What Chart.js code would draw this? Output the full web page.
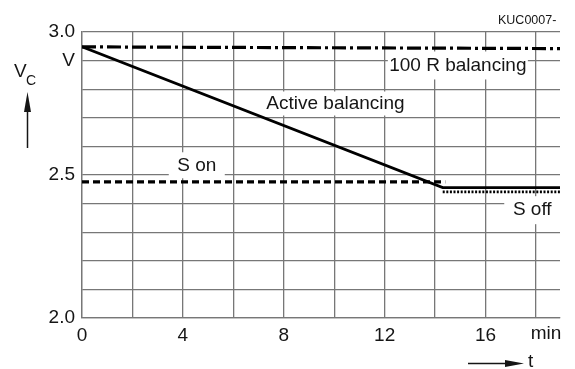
<!DOCTYPE html>
<html>
<head>
<meta charset="utf-8">
<script src="https://cdn.jsdelivr.net/npm/chart.js@4/dist/chart.umd.min.js"></script>
<style>
  html, body { margin: 0; padding: 0; background: #fff; }
  canvas { display: block; }
</style>
</head>
<body>
<canvas id="c" width="575" height="369"></canvas>
<script>
// ---- data (time in min, voltage in V) ----
const r100Time = [0, 18.95];
const r100Volt = [2.948, 2.942];
const activeTime = [0, 14.3, 18.95];
const activeVolt = [2.948, 2.456, 2.456];
const sOnTime = [0, 14.4];
const sOnVolt = [2.476, 2.476];
const sOffTime = [14.3, 18.95];
const sOffVolt = [2.441, 2.441];

const xGridValues = [0, 2, 4, 6, 8, 10, 12, 14, 16, 18];
const xTickLabels = { 0: '0', 4: '4', 8: '8', 12: '12', 16: '16' };
const yTickLabels = { 30: '3.0', 29: 'V', 25: '2.5', 20: '2.0' };

const seriesLabels = ['100 R balancing', 'Active balancing', 'S on', 'S off'];

const FONT = '"Liberation Sans", Arial, sans-serif';
const TXT = '#151515';
const GRID = '#777777';

function pts(t, v) { return t.map((x, i) => ({ x: x, y: v[i] })); }

const annotate = {
  id: 'annotate',
  beforeDatasetsDraw(chart) {
    const { ctx, scales: { x, y } } = chart;
    ctx.save();
    ctx.font = '19px ' + FONT;
    ctx.fillStyle = TXT;
    ctx.textBaseline = 'middle';
    ctx.textAlign = 'center';
    const boxes = [
      // [label, t-center, v-center, half-width(px), half-height(px)]
      [seriesLabels[0], 14.9, 2.883, 70, 14],
      [seriesLabels[1], 10.05, 2.75, 73, 12],
      [seriesLabels[2], 4.55, 2.534, 28, 13],
      [seriesLabels[3], 17.85, 2.377, 28, 14]
    ];
    boxes.forEach(([txt, tx, vy, hw, hh]) => {
      const cx = x.getPixelForValue(tx);
      const cy = y.getPixelForValue(vy);
      ctx.fillStyle = '#fff';
      const left = cx - hw;
      const right = Math.min(cx + hw, chart.chartArea.right + 1);
      ctx.fillRect(left, cy - hh, right - left, hh * 2);
      ctx.fillStyle = TXT;
      ctx.fillText(txt, cx, cy);
    });
    ctx.restore();
  },
  afterDraw(chart) {
    const { ctx, scales: { x } } = chart;
    ctx.save();
    ctx.fillStyle = TXT;
    ctx.strokeStyle = TXT;
    // corner code
    ctx.font = '12.5px ' + FONT;
    ctx.textAlign = 'left';
    ctx.textBaseline = 'middle';
    ctx.fillText('KUC0007-', 498, 21);
    // "min" unit
    ctx.font = '19px ' + FONT;
    ctx.textAlign = 'center';
    ctx.fillText('min', x.getPixelForValue(18) + 10, 334);
    // V_C label
    ctx.textAlign = 'left';
    ctx.fillText('V', 14, 72);
    ctx.font = '14px ' + FONT;
    ctx.fillText('C', 26, 81);
    // up arrow
    ctx.lineWidth = 1.5;
    ctx.beginPath();
    ctx.moveTo(27.5, 148);
    ctx.lineTo(27.5, 110);
    ctx.stroke();
    ctx.beginPath();
    ctx.moveTo(27.5, 92);
    ctx.lineTo(31, 112);
    ctx.lineTo(24, 112);
    ctx.closePath();
    ctx.fill();
    // right arrow + t
    ctx.beginPath();
    ctx.moveTo(468, 363.5);
    ctx.lineTo(510, 363.5);
    ctx.stroke();
    ctx.beginPath();
    ctx.moveTo(524, 363.5);
    ctx.lineTo(505, 360);
    ctx.lineTo(505, 367);
    ctx.closePath();
    ctx.fill();
    ctx.font = '19px ' + FONT;
    ctx.textAlign = 'left';
    ctx.fillText('t', 528, 362);
    ctx.restore();
  }
};

new Chart(document.getElementById('c'), {
  type: 'line',
  data: {
    datasets: [
      { label: seriesLabels[0], data: pts(r100Time, r100Volt), borderColor: '#000', borderWidth: 3.2,
        borderDash: [14, 4, 3, 4] },
      { label: seriesLabels[1], data: pts(activeTime, activeVolt), borderColor: '#000', borderWidth: 2.8 },
      { label: seriesLabels[2], data: pts(sOnTime, sOnVolt), borderColor: '#000', borderWidth: 3.2,
        borderDash: [7, 4] },
      { label: seriesLabels[3], data: pts(sOffTime, sOffVolt), borderColor: '#000', borderWidth: 2.6,
        borderDash: [2, 1.6] }
    ]
  },
  options: {
    responsive: false,
    animation: false,
    events: [],
    elements: { point: { radius: 0 }, line: { tension: 0, borderCapStyle: 'butt' } },
    layout: { padding: { top: 32, right: 15, left: 0, bottom: 0 } },
    plugins: { legend: { display: false }, tooltip: { enabled: false } },
    scales: {
      x: {
        type: 'linear', min: 0, max: 18.95,
        afterBuildTicks(s) { s.ticks = xGridValues.map(v => ({ value: v })); },
        afterFit(s) { s.height = 51; },
        grid: { color: GRID, lineWidth: 1.3, drawTicks: false },
        border: { color: GRID, width: 1.3 },
        ticks: {
          autoSkip: false, maxRotation: 0, padding: 6,
          color: TXT, font: { family: FONT, size: 19 },
          callback: v => (xTickLabels[v] !== undefined ? xTickLabels[v] : '')
        }
      },
      y: {
        min: 2.0, max: 3.0,
        afterBuildTicks(s) {
          const t = [];
          for (let i = 20; i <= 30; i++) t.push({ value: i / 10 });
          s.ticks = t;
        },
        afterFit(s) { s.width = 82; },
        grid: { color: GRID, lineWidth: 1.3, drawTicks: false },
        border: { color: GRID, width: 1.3 },
        ticks: {
          autoSkip: false, padding: 7,
          color: TXT, font: { family: FONT, size: 19 },
          callback: v => { const k = Math.round(v * 10); return yTickLabels[k] !== undefined ? yTickLabels[k] : ''; }
        }
      }
    }
  },
  plugins: [annotate]
});
</script>
</body>
</html>
